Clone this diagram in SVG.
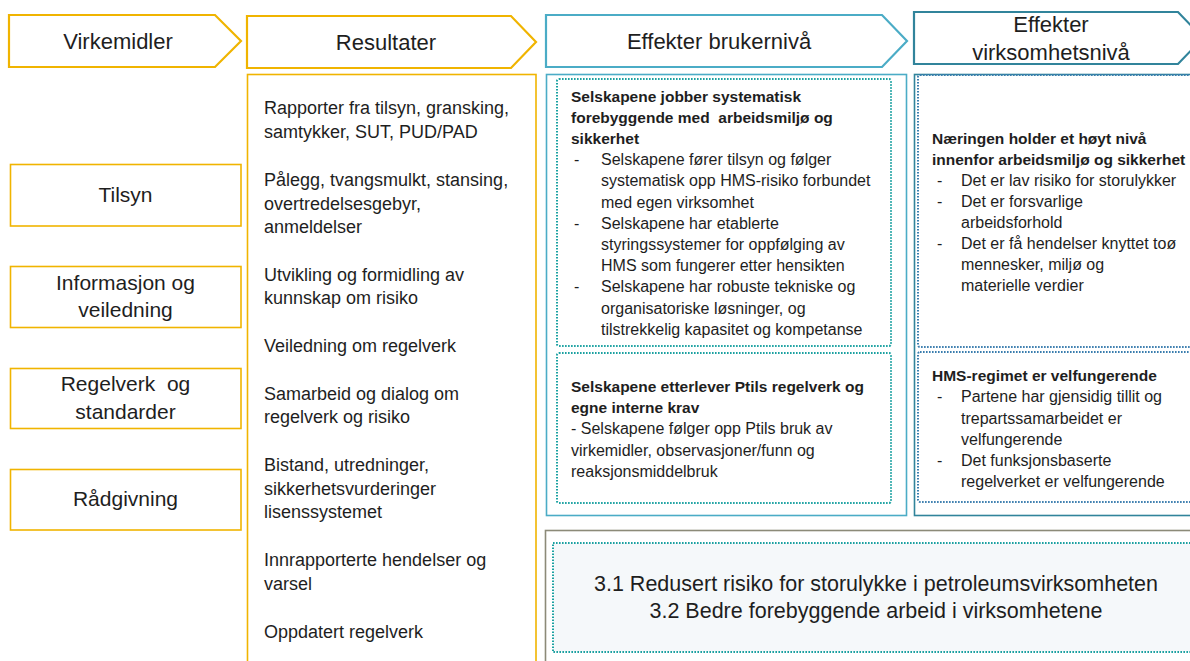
<svg xmlns="http://www.w3.org/2000/svg" width="1190" height="661" viewBox="0 0 1190 661">
<style>
  text { font-family: "Liberation Sans", Arial, sans-serif; fill: #1e1e1e; }
  .hdr { font-size: 22px; text-anchor: middle; }
  .lft { font-size: 21px; text-anchor: middle; }
  .res { font-size: 18px; }
  .b { font-size: 15.5px; font-weight: bold; }
  .n { font-size: 16px; }
  .big { font-size: 21.5px; text-anchor: middle; }
  .yel { fill: #fff; stroke: #F0B400; stroke-width: 1.6; }
  .yelh { fill: #fff; stroke: #F0B400; stroke-width: 2.2; }
  .teal { fill: #fff; stroke: #4BACC6; stroke-width: 1.6; }
  .tealh { fill: #fff; stroke: #4BACC6; stroke-width: 2.2; }
  .blue { fill: #fff; stroke: #31849B; stroke-width: 1.6; }
  .blueh { fill: #fff; stroke: #31849B; stroke-width: 2.2; }
  .dotT { fill: none; stroke: #1BA1A1; stroke-width: 2; stroke-dasharray: 1.6 1.4; }
  .dotB { fill: none; stroke: #3A7DAE; stroke-width: 2; stroke-dasharray: 1.6 1.4; }
  .grey { fill: #fff; stroke: #8C8A78; stroke-width: 1.6; }
</style>
<rect width="1190" height="661" fill="#fff"/>

<g id="hdr-virkemidler">
  <polygon class="yelh" points="9,15 215,15 241,41 215,67 9,67"/>
  <text class="hdr" x="118" y="49">Virkemidler</text>
</g>
<g id="hdr-resultater">
  <polygon class="yelh" points="247,16 511,16 536,42 511,68 247,68"/>
  <text class="hdr" x="386" y="50">Resultater</text>
</g>
<g id="hdr-brukerniva">
  <polygon class="tealh" points="546,15 882,15 907,41 882,67 546,67"/>
  <text class="hdr" x="719" y="49">Effekter brukernivå</text>
</g>
<g id="hdr-virksomhetsniva">
  <polygon class="blueh" points="914,12 1178,12 1203,38 1178,64 914,64"/>
  <text class="hdr" x="1051" y="32">Effekter</text>
  <text class="hdr" x="1051" y="60">virksomhetsnivå</text>
</g>

<g id="tilsyn">
  <rect class="yel" x="10.5" y="164.5" width="230.5" height="61.5"/>
  <text class="lft" x="125.5" y="202">Tilsyn</text>
</g>
<g id="informasjon">
  <rect class="yel" x="10.5" y="266.5" width="230.5" height="61"/>
  <text class="lft" x="125.5" y="290">Informasjon og</text>
  <text class="lft" x="125.5" y="317">veiledning</text>
</g>
<g id="regelverk">
  <rect class="yel" x="10.5" y="368.5" width="230.5" height="60"/>
  <text class="lft" x="125.5" y="391" xml:space="preserve">Regelverk  og</text>
  <text class="lft" x="125.5" y="419">standarder</text>
</g>
<g id="radgivning">
  <rect class="yel" x="10.5" y="469.5" width="230.5" height="60.5"/>
  <text class="lft" x="125.5" y="506">Rådgivning</text>
</g>

<g id="resultater">
  <rect class="yel" x="247.5" y="74.5" width="288.5" height="600"/>
  <text class="res" x="264" y="114">Rapporter fra tilsyn, gransking,</text>
  <text class="res" x="264" y="138">samtykker, SUT, PUD/PAD</text>
  <text class="res" x="264" y="186">Pålegg, tvangsmulkt, stansing,</text>
  <text class="res" x="264" y="210">overtredelsesgebyr,</text>
  <text class="res" x="264" y="233">anmeldelser</text>
  <text class="res" x="264" y="281">Utvikling og formidling av</text>
  <text class="res" x="264" y="304">kunnskap om risiko</text>
  <text class="res" x="264" y="352">Veiledning om regelverk</text>
  <text class="res" x="264" y="400">Samarbeid og dialog om</text>
  <text class="res" x="264" y="423">regelverk og risiko</text>
  <text class="res" x="264" y="471">Bistand, utredninger,</text>
  <text class="res" x="264" y="495">sikkerhetsvurderinger</text>
  <text class="res" x="264" y="518">lisenssystemet</text>
  <text class="res" x="264" y="566">Innrapporterte hendelser og</text>
  <text class="res" x="264" y="590">varsel</text>
  <text class="res" x="264" y="638">Oppdatert regelverk</text>
</g>

<g id="brukerniva">
  <rect class="teal" x="546.5" y="74.5" width="360" height="441"/>
  <g id="bruker-1">
    <rect class="dotT" x="557" y="79" width="334" height="267" rx="2"/>
    <text class="b" x="571" y="102">Selskapene jobber systematisk</text>
    <text class="b" x="571" y="123" xml:space="preserve">forebyggende med  arbeidsmiljø og</text>
    <text class="b" x="571" y="144">sikkerhet</text>
    <text class="n" x="574" y="165">-</text>
    <text class="n" x="601" y="165">Selskapene fører tilsyn og følger</text>
    <text class="n" x="601" y="186">systematisk opp HMS-risiko forbundet</text>
    <text class="n" x="601" y="207.5">med egen virksomhet</text>
    <text class="n" x="574" y="229">-</text>
    <text class="n" x="601" y="229">Selskapene har etablerte</text>
    <text class="n" x="601" y="250">styringssystemer for oppfølging av</text>
    <text class="n" x="601" y="271">HMS som fungerer etter hensikten</text>
    <text class="n" x="574" y="292">-</text>
    <text class="n" x="601" y="292">Selskapene har robuste tekniske og</text>
    <text class="n" x="601" y="313.5">organisatoriske løsninger, og</text>
    <text class="n" x="601" y="335">tilstrekkelig kapasitet og kompetanse</text>
  </g>
  <g id="bruker-2">
    <rect class="dotT" x="557" y="353" width="334" height="150" rx="2"/>
    <text class="b" x="571" y="392">Selskapene etterlever Ptils regelverk og</text>
    <text class="b" x="571" y="413">egne interne krav</text>
    <text class="n" x="571" y="434">- Selskapene følger opp Ptils bruk av</text>
    <text class="n" x="571" y="455.5">virkemidler, observasjoner/funn og</text>
    <text class="n" x="571" y="476.5">reaksjonsmiddelbruk</text>
  </g>
</g>

<g id="virksomhetsniva">
  <rect class="blue" x="914.5" y="74.5" width="290" height="441"/>
  <g id="virk-1">
    <rect class="dotB" x="918" y="75" width="290" height="272" rx="2"/>
    <text class="b" x="932" y="144">Næringen holder et høyt nivå</text>
    <text class="b" x="932" y="164.5">innenfor arbeidsmiljø og sikkerhet</text>
    <text class="n" x="937" y="185.5">-</text>
    <text class="n" x="961" y="185.5">Det er lav risiko for storulykker</text>
    <text class="n" x="937" y="206.5">-</text>
    <text class="n" x="961" y="206.5">Det er forsvarlige</text>
    <text class="n" x="961" y="227.5">arbeidsforhold</text>
    <text class="n" x="937" y="248.5">-</text>
    <text class="n" x="961" y="248.5">Det er få hendelser knyttet toø</text>
    <text class="n" x="961" y="269.5">mennesker, miljø og</text>
    <text class="n" x="961" y="290.5">materielle verdier</text>
  </g>
  <g id="virk-2">
    <rect class="dotB" x="918" y="352" width="290" height="150" rx="2"/>
    <text class="b" x="932" y="381">HMS-regimet er velfungerende</text>
    <text class="n" x="937" y="402">-</text>
    <text class="n" x="961" y="402">Partene har gjensidig tillit og</text>
    <text class="n" x="961" y="423.5">trepartssamarbeidet er</text>
    <text class="n" x="961" y="445">velfungerende</text>
    <text class="n" x="937" y="466">-</text>
    <text class="n" x="961" y="466">Det funksjonsbaserte</text>
    <text class="n" x="961" y="487">regelverket er velfungerende</text>
  </g>
</g>

<g id="maal">
  <rect class="grey" x="545.5" y="530.5" width="660" height="150"/>
  <rect x="553" y="543" width="650" height="109" fill="#F5F8FA" class="dotT" style="fill:#F5F8FA"/>
  <text class="big" x="876" y="591">3.1 Redusert risiko for storulykke i petroleumsvirksomheten</text>
  <text class="big" x="876" y="618">3.2 Bedre forebyggende arbeid i virksomhetene</text>
</g>

<g id="connectors"/>
</svg>
